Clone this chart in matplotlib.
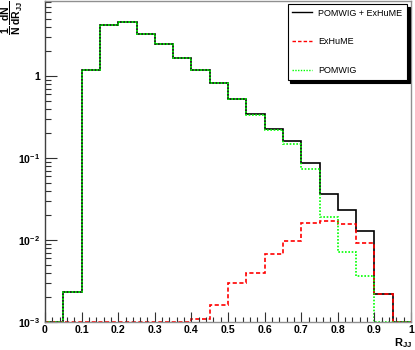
import numpy as np
import matplotlib
matplotlib.use("Agg")
import matplotlib.pyplot as plt
from matplotlib.lines import Line2D

plt.rcParams['font.family'] = ['Liberation Sans', 'DejaVu Sans']
plt.rcParams['font.weight'] = 'bold'
plt.rcParams['mathtext.fontset'] = 'custom'
plt.rcParams['mathtext.rm'] = 'Liberation Sans:bold'
plt.rcParams['mathtext.it'] = 'Liberation Sans:bold'
plt.rcParams['mathtext.bf'] = 'Liberation Sans:bold'
plt.rcParams['mathtext.sf'] = 'Liberation Sans:bold'

# ---- data ----
bin_edges = [0.0, 0.05, 0.1, 0.15, 0.2, 0.25, 0.3, 0.35, 0.4, 0.45, 0.5,
             0.55, 0.6, 0.65, 0.7, 0.75, 0.8, 0.85, 0.9, 0.95, 1.0]
pomwig_exhume = [0, 0.0023, 1.18, 4.13, 4.49, 3.29, 2.42, 1.66, 1.18, 0.83,
                 0.523, 0.34, 0.223, 0.16, 0.087, 0.036, 0.0229, 0.0128, 0.0022, 0]
exhume = [0, 0, 0, 0, 0, 0, 0, 0, 0.00108, 0.00162,
          0.00295, 0.00392, 0.0068, 0.0096, 0.0162, 0.017, 0.0156, 0.0093, 0.0022, 0]
pomwig = [0, 0.0023, 1.18, 4.13, 4.49, 3.29, 2.42, 1.66, 1.18, 0.828,
          0.52, 0.335, 0.218, 0.147, 0.0733, 0.019, 0.0071, 0.0036, 0, 0]
series_labels = ['POMWIG + ExHuME', 'ExHuME', 'POMWIG']
xtick_values = [0, 0.1, 0.2, 0.3, 0.4, 0.5, 0.6, 0.7, 0.8, 0.9, 1.0]
xtick_labels = ['0', '0.1', '0.2', '0.3', '0.4', '0.5', '0.6', '0.7', '0.8', '0.9', '1']
ytick_values = [1e-3, 1e-2, 1e-1, 1]
ytick_labels = ['$10^{-3}$', '$10^{-2}$', '$10^{-1}$', '1']

ymin, ymax = 1e-3, 8.2

fig = plt.figure(figsize=(4.15, 3.5), dpi=100)
ax = fig.add_axes([45/415, 1 - 322/350, (411-45)/415, 321/350])
ax.set_yscale('log')
ax.set_xlim(0, 1)
ax.set_ylim(ymin, ymax)

edges = np.array(bin_edges)
styles = [
    dict(color='black', linestyle='-'),
    dict(color='#ff0000', linestyle=(0, (2.5, 1.5))),
    dict(color='#00ff00', linestyle=(0, (1, 1))),
]
handles = []
for vals, st, lab in zip([pomwig_exhume, exhume, pomwig], styles, series_labels):
    v = np.maximum(np.array(vals, dtype=float), ymin)
    ax.stairs(v, edges, baseline=ymin, fill=False, linewidth=1.2,
              clip_on=False, **st)
    handles.append(Line2D([], [], linewidth=1.0, **st))

ax.set_xticks(xtick_values)
ax.set_xticklabels(xtick_labels)
ax.set_xticks(np.arange(0, 1.0001, 0.02), minor=True)
ax.set_yticks(ytick_values)
ax.set_yticklabels(ytick_labels)
ax.yaxis.set_minor_locator(matplotlib.ticker.LogLocator(base=10, subs=np.arange(2, 10)))
ax.yaxis.set_minor_formatter(matplotlib.ticker.NullFormatter())

ax.tick_params(axis='both', which='both', direction='in', top=False, right=False,
               color='#303030', labelsize=7.6, width=0.8)
ax.tick_params(axis='x', which='major', length=7.2, pad=2.0)
ax.tick_params(axis='x', which='minor', length=3.3)
ax.tick_params(axis='y', which='major', length=8.5, pad=3.5)
ax.tick_params(axis='y', which='minor', length=4.3)

ax.spines['left'].set_color('#404040')
ax.spines['bottom'].set_color('#909090')
ax.spines['top'].set_color('#909090')
ax.spines['right'].set_color('#909090')
for s in ax.spines.values():
    s.set_linewidth(1.0)

leg = fig.legend(handles, series_labels, loc='upper right',
                 bbox_to_anchor=(407/415, 1 - 4/350),
                 fontsize=6.5, frameon=True, fancybox=False,
                 shadow={'color': 'black', 'alpha': 1},
                 edgecolor='black', handlelength=2.2, handletextpad=0.7,
                 labelspacing=2.2, borderpad=0.5, borderaxespad=0)
leg.get_frame().set_linewidth(0.8)
for t in leg.get_texts():
    t.set_fontweight('normal')

fig.text(412/415, 0.5/350, r'$R_{JJ}$', ha='right', va='bottom', fontsize=8)
fig.text(12/415, 1 - 0/350, r'$\dfrac{1}{N}\,\dfrac{dN}{dR_{JJ}}$', rotation=90,
         ha='center', va='top', fontsize=7.5)

fig.savefig('out.png', dpi=100)
